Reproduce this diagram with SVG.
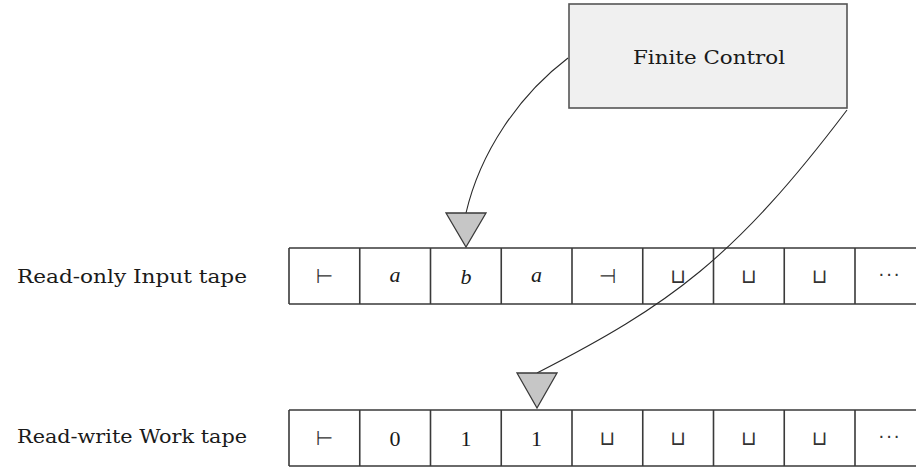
<svg xmlns="http://www.w3.org/2000/svg" width="916" height="470" viewBox="0 0 916 470">
  <style>
    .bg { fill: #ffffff; }
    .box { fill: #f0f0f0; stroke: #555555; stroke-width: 1.6; }
    .tape { fill: none; stroke: #3a3a3a; stroke-width: 1.6; }
    .head { fill: #c6c6c6; stroke: #3a3a3a; stroke-width: 1.3; stroke-linejoin: miter; }
    .conn { fill: none; stroke: #2a2a2a; stroke-width: 1.1; }
    .lbl { font-family: "DejaVu Serif", "Liberation Serif", serif; font-size: 18px; fill: #1a1a1a; }
    .sym { font-family: "Liberation Serif", "DejaVu Serif", serif; font-size: 22px; fill: #1a1a1a; text-anchor: middle; }
    .it { font-style: italic; }
    .math { font-family: "DejaVu Sans", sans-serif; font-size: 20px; fill: #333333; text-anchor: middle; }
    .dots { font-family: "DejaVu Sans", sans-serif; font-size: 18px; fill: #333333; text-anchor: middle; letter-spacing: 2px; }
  </style>
  <rect class="bg" x="0" y="0" width="916" height="470"/>

  <g id="finite-control">
    <rect class="box" x="569" y="4" width="278" height="104"/>
    <text class="lbl" x="633" y="64" textLength="152" lengthAdjust="spacingAndGlyphs">Finite Control</text>
  </g>

  <g id="input-tape">
    <text class="lbl" x="17" y="283" textLength="230" lengthAdjust="spacingAndGlyphs">Read-only Input tape</text>
    <path class="tape" d="M289,248 H916 M289,304 H916 M289,248 V304 M359.75,248 V304 M430.5,248 V304 M501.25,248 V304 M572,248 V304 M642.75,248 V304 M713.5,248 V304 M784.25,248 V304 M855,248 V304"/>
    <text class="math" x="324.4" y="283">⊢</text>
    <text class="sym it" x="395.1" y="282">a</text>
    <text class="sym it" x="465.9" y="284">b</text>
    <text class="sym it" x="536.6" y="282">a</text>
    <text class="math" x="607.4" y="283">⊣</text>
    <text class="math" x="678.1" y="283">⊔</text>
    <text class="math" x="748.9" y="283">⊔</text>
    <text class="math" x="819.6" y="283">⊔</text>
    <text class="dots" x="890" y="281">···</text>
  </g>

  <g id="work-tape">
    <text class="lbl" x="17" y="443" textLength="230" lengthAdjust="spacingAndGlyphs">Read-write Work tape</text>
    <path class="tape" d="M289,410 H916 M289,466 H916 M289,410 V466 M359.75,410 V466 M430.5,410 V466 M501.25,410 V466 M572,410 V466 M642.75,410 V466 M713.5,410 V466 M784.25,410 V466 M855,410 V466"/>
    <text class="math" x="324.4" y="445">⊢</text>
    <text class="sym" x="395.1" y="446">0</text>
    <text class="sym" x="465.9" y="446">1</text>
    <text class="sym" x="536.6" y="446">1</text>
    <text class="math" x="607.4" y="445">⊔</text>
    <text class="math" x="678.1" y="445">⊔</text>
    <text class="math" x="748.9" y="445">⊔</text>
    <text class="math" x="819.6" y="445">⊔</text>
    <text class="dots" x="890" y="443">···</text>
  </g>

  <g id="connectors">
    <path class="conn" d="M568,58 C518,96 480,153 466,213"/>
    <path class="conn" d="M847,110 C735,258 670,305 537,373"/>
  </g>

  <g id="input-head">
    <polygon class="head" points="446,213 486,213 466,247"/>
  </g>
  <g id="work-head">
    <polygon class="head" points="517,373 557,373 537,408"/>
  </g>
</svg>
